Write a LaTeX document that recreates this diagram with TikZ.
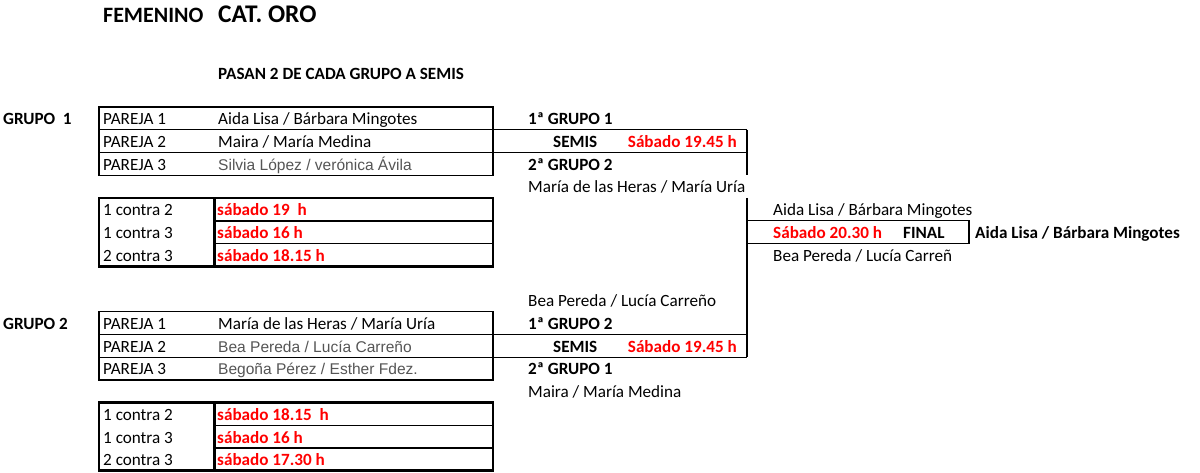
\documentclass[tikz,border=0pt]{standalone}
\usepackage{fontspec}
\setmainfont{Carlito}
\newfontfamily\arialfont{Liberation Sans}
\usepackage{xcolor}
\definecolor{hora}{RGB}{255,0,0}
\definecolor{gris}{RGB}{85,85,85}

\begin{document}
\begin{tikzpicture}[x=1bp,y=-1bp,
    txt/.style={anchor=base west,inner sep=0pt,font=\fontsize{17.2}{20}\selectfont},
    ar/.style={anchor=base west,inner sep=0pt,text=gris,font=\arialfont\fontsize{15.6}{18}\selectfont},
    bf/.style={txt,font=\fontsize{17.2}{20}\selectfont\bfseries},
    hr/.style={bf,text=hora},
    celda/.style={line width=1.3bp},
    marco/.style={line width=2.8bp},
    llave/.style={line width=2bp}]
  \useasboundingbox (0,0) rectangle (1200,473);

  % titulo
  \node[bf,font=\fontsize{22}{24}\selectfont\bfseries] (fem) at (103,23) {FEMENINO};
  \node[bf,font=\fontsize{25.5}{28}\selectfont\bfseries] (oro) at (218,23) {CAT. ORO};
  \node[bf] (pasan) at (218,79.3) {PASAN 2 DE CADA GRUPO A SEMIS};

  % grupo 1
  \node[bf] (g1) at (3,124.75) {GRUPO\ \ 1};
  \draw[celda] (99,107) rectangle (493,175.25);
  \draw[celda] (99,129.75) -- (746.7,129.75);
  \draw[celda] (99,152.5) -- (746.7,152.5);
  \node[txt] (g1p1) at (103,124.75) {PAREJA 1};
  \node[txt] (g1p2) at (103,147.5) {PAREJA 2};
  \node[txt] (g1p3) at (103,170.25) {PAREJA 3};
  \node[txt] (g1n1) at (218,124.75) {Aida Lisa / Bárbara Mingotes};
  \node[txt] (g1n2) at (218,147.5) {Maira / María Medina};
  \node[ar] (g1n3) at (218,170.25) {Silvia López / verónica Ávila};

  \draw[marco] (99,198) rectangle (493,266.25);
  \draw[marco] (214.5,198) -- (214.5,266.25);
  \draw[line width=1.8bp] (214.5,220.75) -- (493,220.75);
  \draw[line width=1.8bp] (214.5,243.5) -- (493,243.5);
  \node[txt] (g1c1) at (103,215.75) {1 contra 2};
  \node[txt] (g1c2) at (103,238.5) {1 contra 3};
  \node[txt] (g1c3) at (103,261.25) {2 contra 3};
  \node[hr] (g1h1) at (217,215.75) {sábado 19\ \ h};
  \node[hr] (g1h2) at (217,238.5) {sábado 16 h};
  \node[hr] (g1h3) at (217,261.25) {sábado 18.15 h};

  % semis 1
  \node[bf] (s1a) at (528,124.75) {1ª GRUPO 1};
  \node[bf] (s1) at (553,147.5) {SEMIS};
  \node[hr,anchor=base east] (s1h) at (737,147.5) {Sábado 19.45 h};
  \node[bf] (s1b) at (528,170.25) {2ª GRUPO 2};
  \node[txt] (s1w) at (528,193) {María de las Heras / María Uría};

  % final
  \coordinate (s1top) at (746.7,129.75);
  \coordinate (s1end) at (746.7,175.25);
  \coordinate (llavea) at (746.7,198);
  \coordinate (s2end) at (746.7,357.25);
  \draw[llave] (s1top) -- (s1end);
  \draw[llave] (llavea) -- (s2end);
  \draw[celda] (746.7,220.75) rectangle (969,243.5);
  \node[txt] (fa) at (773,215.75) {Aida Lisa / Bárbara Mingotes};
  \node[hr] (fh) at (773,238.5) {Sábado 20.30 h};
  \node[bf] (fin) at (903,238.5) {FINAL};
  \node[txt] (fb) at (773,261.25) {Bea Pereda / Lucía Carreñ};
  \node[bf] (campeon) at (975,238.5) {Aida Lisa / Bárbara Mingotes};

  % semis 2
  \node[txt] (s2w) at (528,306.75) {Bea Pereda / Lucía Carreño};
  \node[bf] (s2a) at (528,329.5) {1ª GRUPO 2};
  \node[bf] (s2) at (553,352.25) {SEMIS};
  \node[hr,anchor=base east] (s2h) at (737,352.25) {Sábado 19.45 h};
  \node[bf] (s2b) at (528,375) {2ª GRUPO 1};
  \node[txt] (s2v) at (528,397.75) {Maira / María Medina};

  % grupo 2
  \node[bf] (g2) at (3,329.5) {GRUPO 2};
  \draw[celda] (99,311.75) rectangle (493,380);
  \draw[celda] (99,334.5) -- (746.7,334.5);
  \draw[celda] (99,357.25) -- (746.7,357.25);
  \node[txt] (g2p1) at (103,329.5) {PAREJA 1};
  \node[txt] (g2p2) at (103,352.25) {PAREJA 2};
  \node[txt] (g2p3) at (103,375) {PAREJA 3};
  \node[txt] (g2n1) at (218,329.5) {María de las Heras / María Uría};
  \node[ar] (g2n2) at (218,352.25) {Bea Pereda / Lucía Carreño};
  \node[ar] (g2n3) at (218,375) {Begoña Pérez / Esther Fdez.};

  \draw[marco] (99,402.75) rectangle (493,470.5);
  \draw[marco] (214.5,402.75) -- (214.5,470.5);
  \draw[line width=1.8bp] (214.5,425.5) -- (493,425.5);
  \draw[line width=1.8bp] (214.5,448.25) -- (493,448.25);
  \node[txt] (g2c1) at (103,420.5) {1 contra 2};
  \node[txt] (g2c2) at (103,443.25) {1 contra 3};
  \node[txt] (g2c3) at (103,466) {2 contra 3};
  \node[hr] (g2h1) at (217,420.5) {sábado 18.15\ \ h};
  \node[hr] (g2h2) at (217,443.25) {sábado 16 h};
  \node[hr] (g2h3) at (217,466) {sábado 17.30 h};
\end{tikzpicture}
\end{document}
